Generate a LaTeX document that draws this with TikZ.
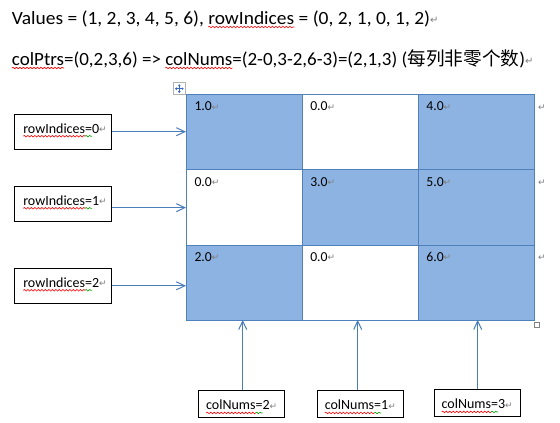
\documentclass[tikz,border=0pt]{standalone}
\usepackage{fontspec}
\setmainfont{Carlito}
\newfontfamily\cjkfont{Noto Sans CJK SC}
\newfontfamily\markfont{DejaVu Sans}
\usetikzlibrary{arrows.meta,decorations.pathmorphing,calc}
\definecolor{cellblue}{HTML}{8DB3E2}
\definecolor{tabline}{HTML}{4F81BD}
\definecolor{arrblue}{HTML}{4A7EBB}
\definecolor{markgray}{HTML}{7F7F7F}
\definecolor{sqred}{HTML}{FF0000}
\definecolor{sqgreen}{HTML}{00A000}
\definecolor{handleblue}{HTML}{3A66C4}
\newcommand\rmk[1][9]{{\markfont\fontsize{#1}{#1}\selectfont\color{markgray}\raisebox{0.6pt}{↵}}}
\newcommand\sqline[2]{\tikz[baseline=(sqt.base)]{\node[draw=none,fill=none,shape=rectangle,inner sep=0pt,outer sep=0pt,minimum width=0pt,minimum height=0pt,text width=,text height=,text depth=,anchor=base] (sqt) {#2};\draw[overlay,draw=#1,fill=none,line width=0.6pt,decorate,decoration={snake,segment length=3.5pt,amplitude=0.8pt}] ([yshift=-3pt]sqt.base west) -- ([yshift=-3pt]sqt.base east);}}
\begin{document}
\begin{tikzpicture}[x=1pt,y=1pt,
  lbox/.style={draw=black,line width=1pt,fill=white,minimum width=97.4pt,minimum height=35pt,inner sep=0pt,font=\fontsize{14}{16}\selectfont,text height=8pt,text depth=5pt},
  cbox/.style={draw=black,line width=1pt,fill=white,minimum width=86.3pt,minimum height=27.3pt,inner sep=0pt,font=\fontsize{14}{16}\selectfont,text height=13pt,text depth=0.5pt},
  tcell/.style={draw=tabline,line width=1pt,minimum width=116.1pt,minimum height=75.43pt,inner sep=0pt,anchor=north west},
  bluecell/.style={tcell,fill=cellblue},
  whitecell/.style={tcell,fill=white},
  celltext/.style={anchor=base west,inner sep=0pt,font=\fontsize{13.7}{15}\selectfont},
  arr/.style={draw=arrblue,line width=1pt,-{Straight Barb[length=8.5pt,width=8pt,line width=1pt]}},
  maintext/.style={anchor=base west,inner sep=0pt}
]
\useasboundingbox (0,0) rectangle (560,-423);
\fill[white] (0,0) rectangle (560,-423);

% heading lines
\node[maintext,font=\fontsize{18.67}{22}\selectfont\addfontfeatures{FakeStretch=1.043}] (l1) at (11.7,-24) {Values = (1, 2, 3, 4, 5, 6), \sqline{sqred}{rowIndices} = (0, 2, 1, 0, 1, 2)\rmk[10]};
\node[maintext,font=\fontsize{18.67}{22}\selectfont\addfontfeatures{FakeStretch=1.017}] (l2) at (11.7,-65) {\sqline{sqred}{colPtrs}=(0,2,3,6) =>{} \sqline{sqred}{colNums}=(2-0,3-2,6-3)=(2,1,3) ({\cjkfont 每列非零个数})\rmk[10]};

% table
\node[bluecell]  (c11) at (186,-94) {};
\node[whitecell] (c12) at (302.1,-94) {};
\node[bluecell]  (c13) at (418.2,-94) {};
\node[whitecell] (c21) at (186,-169.43) {};
\node[bluecell]  (c22) at (302.1,-169.43) {};
\node[bluecell]  (c23) at (418.2,-169.43) {};
\node[bluecell]  (c31) at (186,-244.86) {};
\node[whitecell] (c32) at (302.1,-244.86) {};
\node[bluecell]  (c33) at (418.2,-244.86) {};

\node[celltext] (t11) at ($(c11.north west)+(8.3,-16.7)$) {1.0\rmk};
\node[celltext] (t12) at ($(c12.north west)+(8,-16.7)$) {0.0\rmk};
\node[celltext] (t13) at ($(c13.north west)+(8,-16.7)$) {4.0\rmk};
\node[celltext] (t21) at ($(c21.north west)+(8.3,-16.7)$) {0.0\rmk};
\node[celltext] (t22) at ($(c22.north west)+(8,-16.7)$) {3.0\rmk};
\node[celltext] (t23) at ($(c23.north west)+(8,-16.7)$) {5.0\rmk};
\node[celltext] (t31) at ($(c31.north west)+(8.3,-16.7)$) {2.0\rmk};
\node[celltext] (t32) at ($(c32.north west)+(8,-16.7)$) {0.0\rmk};
\node[celltext] (t33) at ($(c33.north west)+(8,-16.7)$) {6.0\rmk};

% row end marks
\node[celltext] (e1) at ($(c13.north east)+(2.5,-16.7)$) {\rmk};
\node[celltext] (e2) at ($(c23.north east)+(2.5,-16.7)$) {\rmk};
\node[celltext] (e3) at ($(c33.north east)+(2.5,-16.7)$) {\rmk};

% table handles
\node[draw=gray!60,fill=white,minimum size=12pt,inner sep=0pt,line width=0.6pt] (mh) at (179.3,-88.7) {};
\draw[draw=handleblue,line width=0.7pt,{Latex[length=2pt,width=3pt]}-{Latex[length=2pt,width=3pt]}] ([xshift=1.8pt]mh.west) -- ([xshift=-1.8pt]mh.east);
\draw[draw=handleblue,line width=0.7pt,{Latex[length=2pt,width=3pt]}-{Latex[length=2pt,width=3pt]}] ([yshift=-1.8pt]mh.north) -- ([yshift=1.8pt]mh.south);
\node[draw=gray,fill=white,minimum size=5pt,inner sep=0pt,line width=0.6pt] (rh) at (536.8,-324.8) {};

% left boxes
\node[lbox] (r0) at (63,-131.7) {\hspace{4pt}\sqline{sqred}{rowIndices}\sqline{sqgreen}{=}0\rmk};
\node[lbox] (r1) at (63,-203.8) {\hspace{4pt}\sqline{sqred}{rowIndices}\sqline{sqgreen}{=}1\rmk};
\node[lbox] (r2) at (63,-285.8) {\hspace{4pt}\sqline{sqred}{rowIndices}\sqline{sqgreen}{=}2\rmk};

\draw[arr] (r0.east) -- (r0.east -| c11.west);
\draw[arr] (r1.east |- c21.west) -- (c21.west);
\draw[arr] (r2.east) -- (r2.east -| c31.west);

% bottom boxes
\node[cbox] (n2) at (241.7,-403.7) {\sqline{sqred}{colNums}\sqline{sqgreen}{=}2\rmk};
\node[cbox] (n1) at (360.3,-403.7) {\sqline{sqred}{colNums}\sqline{sqgreen}{=}1\rmk};
\node[cbox] (n3) at (477.2,-402.7) {\sqline{sqred}{colNums}\sqline{sqgreen}{=}3\rmk};

\draw[arr,shorten >=-1.4pt] ([xshift=1pt]n2.north) -- ([xshift=1pt]n2.north |- c31.south);
\draw[arr,shorten >=-1.4pt] ([xshift=-2.6pt]n1.north) -- ([xshift=-2.6pt]n1.north |- c32.south);
\draw[arr,shorten >=-1.4pt] ([xshift=0.5pt]n3.north) -- ([xshift=0.5pt]n3.north |- c33.south);
\end{tikzpicture}
\end{document}
